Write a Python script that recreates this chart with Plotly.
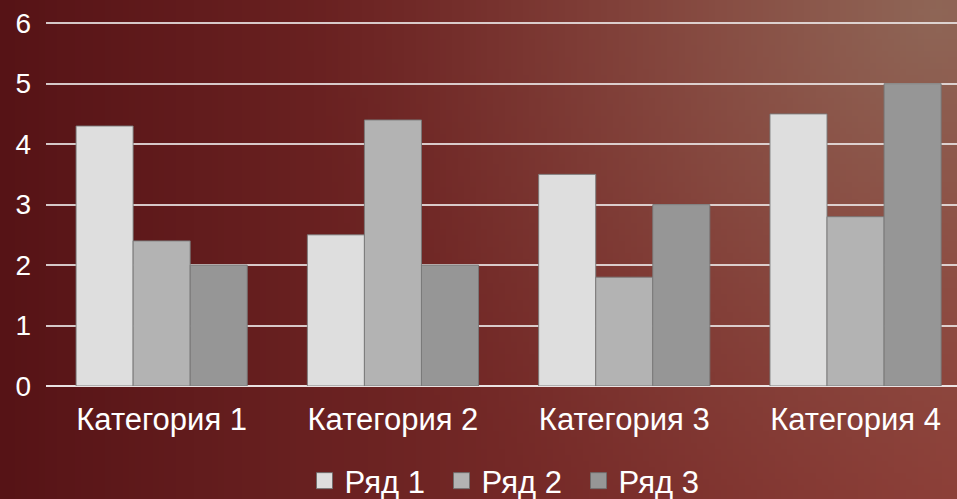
import base64
import struct
import zlib
import plotly.graph_objects as go

categories = ["Категория 1", "Категория 2", "Категория 3", "Категория 4"]
series_names = ["Ряд 1", "Ряд 2", "Ряд 3"]
row1 = [4.3, 2.5, 3.5, 4.5]
row2 = [2.4, 4.4, 1.8, 2.8]
row3 = [2, 2, 3, 5]
y_ticks = [0, 1, 2, 3, 4, 5, 6]

series_values = [row1, row2, row3]
series_colors = ["#dedede", "#b3b3b3", "#969696"]

W, H = 957, 499
ML, MR, MT, MB = 46, 0, 22, 113
PW, PH = W - ML - MR, H - MT - MB


def lerp(a, b, t):
    return tuple(a[k] + (b[k] - a[k]) * t for k in range(3))


def bg_png(w, h):
    raw = bytearray()
    left = (86, 19, 22)
    right = (140, 58, 52)
    hi = (142, 104, 88)
    for j in range(h):
        raw.append(0)
        y = j / (h - 1) * H
        for i in range(w):
            x = i / (w - 1) * W
            t = x / W
            c = lerp(left, right, t ** 0.95)
            d = ((x - 940) ** 2 + (y - 10) ** 2) ** 0.5 / 650.0
            hw = max(0.0, 1 - d) ** 1.5 * 0.95
            c = lerp(c, hi, hw)
            raw.extend(bytes(max(0, min(255, int(round(v)))) for v in c))

    def chunk(tag, data):
        return (struct.pack(">I", len(data)) + tag + data
                + struct.pack(">I", zlib.crc32(tag + data) & 0xffffffff))

    png = (b"\x89PNG\r\n\x1a\n"
           + chunk(b"IHDR", struct.pack(">IIBBBBB", w, h, 8, 2, 0, 0, 0))
           + chunk(b"IDAT", zlib.compress(bytes(raw), 9))
           + chunk(b"IEND", b""))
    return "data:image/png;base64," + base64.b64encode(png).decode()


FONT = "Arial, Liberation Sans, sans-serif"

fig = go.Figure()
for name, vals, col in zip(series_names, series_values, series_colors):
    fig.add_trace(go.Bar(
        x=categories, y=vals, name=name, showlegend=False,
        marker=dict(color=col, line=dict(color="rgba(120,120,120,0.9)", width=1)),
    ))
for name, col in zip(series_names, series_colors):
    fig.add_trace(go.Scatter(
        x=[None], y=[None], mode="markers", name=name,
        marker=dict(symbol="square", size=16, color=col,
                    line=dict(color="rgba(110,110,110,0.9)", width=1)),
    ))

fig.update_layout(
    width=W, height=H,
    margin=dict(l=ML, r=MR, t=MT, b=MB, pad=0, autoexpand=False),
    paper_bgcolor="rgba(0,0,0,0)",
    plot_bgcolor="rgba(0,0,0,0)",
    barmode="group", bargap=0.26, bargroupgap=0,
    font=dict(family=FONT, color="white", size=31),
    images=[dict(source=bg_png(160, 84), xref="paper", yref="paper",
                 x=-ML / PW, y=1 + MT / PH, sizex=W / PW, sizey=H / PH,
                 xanchor="left", yanchor="top", sizing="stretch", layer="below")],
    legend=dict(orientation="h", x=(510 - ML) / PW, xanchor="center",
                y=-(481 - (H - MB)) / PH, yanchor="middle",
                font=dict(family=FONT, size=31, color="white"), bgcolor="rgba(0,0,0,0)",
                itemwidth=30, tracegroupgap=0, entrywidth=92, entrywidthmode="pixels"),
    xaxis=dict(range=[-0.5, -0.5 + PW / 231.3], showgrid=False, showline=False,
               ticks="", ticklabelstandoff=12,
               tickfont=dict(family=FONT, size=31, color="white")),
    yaxis=dict(range=[0, 6.02], tickvals=y_ticks, showgrid=True,
               gridcolor="rgba(235,230,230,0.85)", gridwidth=1.5,
               zeroline=True, zerolinecolor="rgba(240,236,236,0.95)", zerolinewidth=1.5,
               showline=False, ticks="", ticklabelstandoff=14,
               tickfont=dict(family=FONT, size=28, color="white")),
)

fig.write_html(
    "out.html",
    config={"displayModeBar": False},
    post_script="document.body.style.margin='0';document.body.style.overflow='hidden';",
)
